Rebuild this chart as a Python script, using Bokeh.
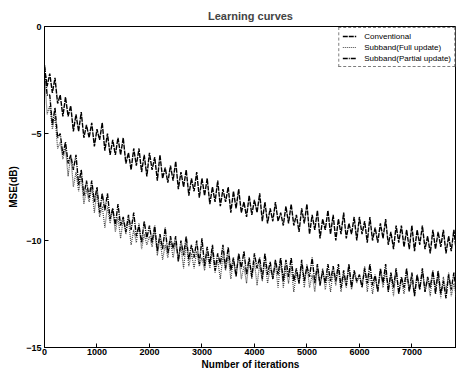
from bokeh.plotting import figure
from bokeh.models import Legend, LegendItem, FixedTicker, Range1d
from bokeh.embed import file_html
from bokeh.resources import INLINE

# ---- data (one sample every 50 iterations) ----
iterations = list(range(0, 7900, 50))

conventional = [
    -1.9, -2.8, -2.2, -3.1, -2.4, -3.6, -3.2, -4.2, -3.3, -4.2,
    -3.7, -4.9, -4.1, -4.9, -4.0, -5.2, -4.6, -5.2, -4.5, -5.6,
    -4.8, -5.3, -4.5, -5.8, -5.0, -6.0, -5.3, -6.0, -5.2, -6.0,
    -5.2, -6.4, -5.9, -6.7, -5.7, -6.5, -5.7, -6.8, -6.0, -7.0,
    -5.9, -6.7, -6.1, -7.2, -6.0, -7.1, -6.6, -7.3, -6.5, -7.2,
    -6.3, -7.6, -6.8, -7.5, -6.7, -7.9, -7.1, -7.7, -6.8, -8.0,
    -7.1, -7.9, -7.1, -8.3, -7.5, -8.2, -7.2, -8.4, -7.6, -8.2,
    -7.5, -8.7, -7.7, -8.5, -7.6, -8.7, -8.2, -8.9, -7.9, -8.8,
    -8.1, -8.7, -7.8, -9.1, -8.2, -9.2, -8.5, -9.1, -8.2, -9.1,
    -8.7, -9.3, -8.4, -9.2, -8.3, -9.3, -8.8, -9.6, -8.5, -9.2,
    -8.3, -9.7, -8.8, -9.5, -8.6, -9.9, -9.0, -9.5, -8.6, -9.7,
    -8.8, -10.0, -9.0, -9.7, -8.7, -9.9, -9.2, -9.7, -8.9, -10.0,
    -8.9, -9.7, -9.1, -10.1, -8.9, -10.0, -9.4, -10.1, -9.2, -9.9,
    -9.0, -10.2, -9.6, -10.4, -9.3, -10.1, -9.3, -10.3, -9.5, -10.4,
    -9.3, -10.5, -9.5, -10.2, -9.3, -10.4, -9.8, -10.6, -9.5, -10.4,
    -9.6, -10.3, -9.5, -10.6, -9.8, -10.5, -9.5, -10.6,
]

subband_full = [
    -2.2, -4.1, -3.7, -4.8, -4.2, -5.7, -5.4, -6.2, -5.7, -7.0,
    -6.0, -7.5, -6.8, -7.7, -7.0, -8.3, -7.6, -8.2, -7.5, -8.7,
    -7.7, -8.9, -8.4, -9.4, -8.4, -9.2, -8.5, -9.6, -8.9, -9.9,
    -9.0, -9.7, -9.0, -10.2, -9.5, -10.1, -9.2, -10.4, -9.7, -10.2,
    -9.8, -10.3, -9.5, -10.7, -9.9, -10.9, -10.2, -10.8, -10.0, -10.8,
    -10.1, -10.8, -10.3, -11.3, -10.1, -11.2, -10.6, -11.3, -10.5, -11.2,
    -10.8, -11.4, -10.6, -11.3, -10.5, -11.5, -10.9, -11.8, -10.7, -11.4,
    -10.7, -11.8, -10.9, -11.6, -10.7, -11.8, -11.2, -12.0, -10.9, -11.8,
    -11.0, -12.1, -11.1, -11.9, -10.9, -12.0, -11.3, -11.8, -11.1, -12.2,
    -10.9, -12.2, -11.3, -12.0, -11.2, -12.4, -11.5, -12.0, -11.1, -12.2,
    -11.1, -12.2, -11.6, -12.4, -11.3, -12.1, -11.3, -12.3, -11.5, -12.4,
    -11.4, -12.1, -11.3, -12.4, -11.6, -12.2, -11.2, -12.3, -11.5, -12.0,
    -11.6, -12.1, -11.2, -12.4, -11.5, -12.5, -11.7, -12.3, -11.4, -12.2,
    -11.5, -12.2, -11.6, -12.6, -11.4, -12.4, -11.8, -12.5, -11.6, -12.3,
    -11.9, -12.5, -11.6, -12.3, -11.4, -12.4, -11.8, -12.6, -11.5, -12.2,
    -11.6, -12.7, -11.7, -12.4, -11.5, -12.6, -12.0, -12.7,
]

subband_partial = [
    -1.8, -3.2, -3.2, -4.6, -3.8, -5.2, -5.0, -6.0, -5.4, -6.4,
    -6.0, -6.7, -6.0, -7.4, -6.7, -7.9, -7.2, -8.0, -7.2, -8.2,
    -7.5, -8.7, -7.8, -8.6, -7.8, -9.0, -8.5, -9.3, -8.3, -9.3,
    -8.9, -9.6, -8.8, -9.5, -8.7, -9.8, -9.3, -10.1, -9.1, -9.9,
    -9.3, -10.1, -9.3, -10.5, -9.7, -10.4, -9.4, -10.6, -9.8, -10.4,
    -9.8, -11.0, -10.0, -10.7, -9.8, -10.9, -10.2, -10.8, -10.0, -11.1,
    -9.9, -11.2, -10.3, -11.1, -10.2, -11.4, -10.6, -11.1, -10.2, -11.3,
    -10.3, -11.4, -10.8, -11.7, -10.6, -11.3, -10.5, -11.6, -10.8, -11.7,
    -10.6, -11.3, -10.8, -11.8, -10.6, -11.6, -11.0, -11.8, -10.9, -11.6,
    -10.8, -11.9, -10.9, -11.7, -10.8, -11.9, -11.3, -12.0, -10.9, -11.9,
    -11.2, -11.7, -10.8, -12.0, -11.1, -12.1, -11.4, -12.0, -11.1, -11.9,
    -11.2, -11.9, -11.1, -12.2, -11.4, -12.1, -11.1, -12.2, -11.4, -11.9,
    -11.6, -12.2, -11.3, -12.0, -11.1, -12.1, -11.6, -12.4, -11.3, -12.0,
    -11.1, -12.4, -11.5, -12.2, -11.3, -12.5, -11.7, -12.2, -11.3, -12.4,
    -11.5, -12.6, -11.6, -12.3, -11.3, -12.4, -11.7, -12.2, -11.4, -12.5,
    -11.4, -12.5, -11.9, -12.7, -11.6, -12.3, -11.5, -12.5,
]

series_names = ["Conventional", "Subband(Full update)", "Subband(Partial update)"]
x_ticks = [0, 1000, 2000, 3000, 4000, 5000, 6000, 7000]
y_ticks = [0, -5, -10, -15]

FONT = "Liberation Sans"

p = figure(width=456, height=372, output_backend="svg", toolbar_location=None,
           x_range=Range1d(0, 7850), y_range=Range1d(-15, 0),
           min_border_left=44, min_border_right=0, min_border_top=26,
           min_border_bottom=0)

p.title.text = "Learning curves"
p.title.align = "center"
p.title.text_font = FONT
p.title.text_font_size = "11px"
p.title.text_font_style = "bold"
p.title.standoff = 9
p.title.offset = 0

p.xgrid.visible = False
p.ygrid.visible = False
p.background_fill_color = "white"
p.border_fill_color = "white"
p.outline_line_color = "black"
p.outline_line_width = 1

for ax in (p.xaxis[0], p.yaxis[0]):
    ax.major_tick_in = 4
    ax.major_tick_out = 0
    ax.minor_tick_in = 0
    ax.minor_tick_out = 0
    ax.axis_line_color = "black"
    ax.major_tick_line_color = "black"
    ax.major_label_text_font = FONT
    ax.major_label_text_font_size = "9px"
    ax.major_label_text_font_style = "bold"
    ax.major_label_text_color = "black"
    ax.axis_label_text_font = FONT
    ax.axis_label_text_font_size = "10px"
    ax.axis_label_text_font_style = "bold"
    ax.axis_label_text_color = "black"

p.xaxis.ticker = FixedTicker(ticks=x_ticks)
p.yaxis.ticker = FixedTicker(ticks=y_ticks)
p.xaxis.axis_label = "Number of iterations"
p.yaxis.axis_label = "MSE(dB)"
p.xaxis.major_label_standoff = 1
p.yaxis.major_label_standoff = 3
p.xaxis.axis_label_standoff = 1
p.yaxis.axis_label_standoff = 4

r_conv = p.line(iterations, conventional, line_color="black", line_width=1.4,
                line_dash="5 1")
r_full = p.line(iterations, subband_full, line_color="#444444", line_width=1.2,
                line_dash="1 1")
r_part = p.line(iterations, subband_partial, line_color="black", line_width=1.4,
                line_dash="5 1 1 1")

legend = Legend(items=[
    LegendItem(label=series_names[0], renderers=[r_conv]),
    LegendItem(label=series_names[1], renderers=[r_full]),
    LegendItem(label=series_names[2], renderers=[r_part]),
], location="top_right")
legend.label_text_font = FONT
legend.label_text_font_size = "8px"
legend.label_text_color = "black"
legend.glyph_width = 14
legend.glyph_height = 10
legend.label_height = 10
legend.label_standoff = 8
legend.spacing = 1
legend.padding = 3
legend.margin = 1
legend.border_line_color = "black"
legend.border_line_width = 1
legend.border_line_dash = "2 1"
legend.background_fill_alpha = 1
p.add_layout(legend)

open("out.html", "w").write(file_html(p, INLINE))
